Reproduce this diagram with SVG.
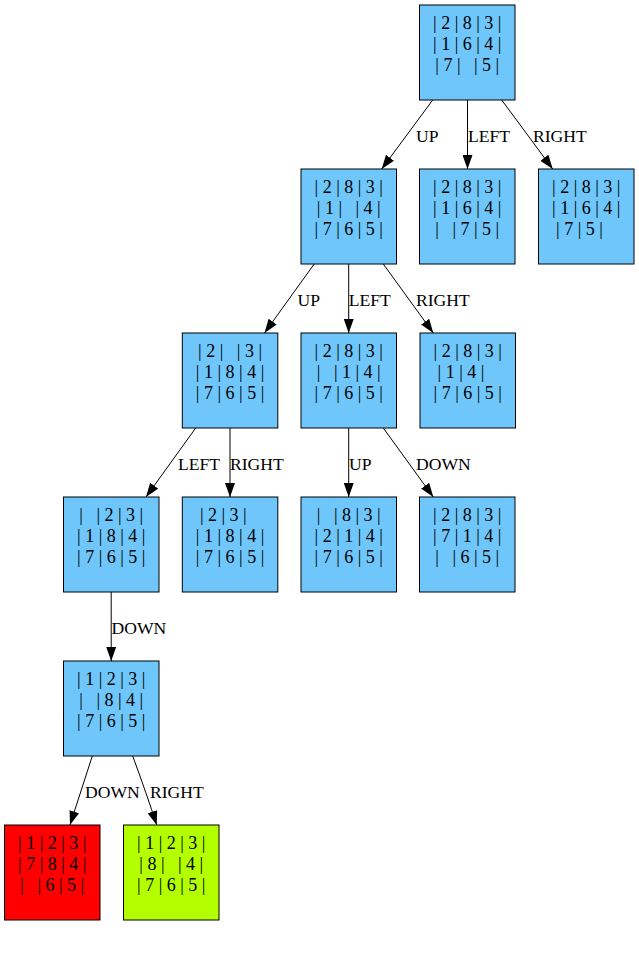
<svg xmlns="http://www.w3.org/2000/svg" width="639" height="971" viewBox="0 0 639 971">
<style>
.node rect{stroke:#000;stroke-width:1;fill:#6ec6fa}
.node.red rect{fill:#ff0000}
.node.green rect{fill:#b3ff00}
.node text{font-family:"Liberation Serif","Times New Roman",serif;font-size:18px;fill:#000;text-anchor:middle;white-space:pre}
.edges path{stroke:#000;stroke-width:1;fill:none;marker-end:url(#arr)}
.edges text{font-family:"Liberation Serif","Times New Roman",serif;font-size:17.6px;fill:#000}
</style>
<defs>
<marker id="arr" viewBox="0 0 14 10" refX="14" refY="5" markerWidth="14" markerHeight="10" markerUnits="userSpaceOnUse" orient="auto">
<path d="M0,0 L14,5 L0,10 z" fill="#000"/>
</marker>
</defs>
<rect width="639" height="971" fill="#fff"/>
<g id="edges" class="edges">
<path d="M432.7,100 L381.7,169"/><text x="416" y="141.5">UP</text>
<path d="M467.5,100 L467.5,169"/><text x="468" y="141.5">LEFT</text>
<path d="M501.7,100 L552.7,169"/><text x="533" y="141.5">RIGHT</text>
<path d="M314.2,264 L264.5,333"/><text x="297.5" y="305.5">UP</text>
<path d="M348.7,264 L348.7,333"/><text x="348.7" y="305.5">LEFT</text>
<path d="M383.3,264 L433.3,333"/><text x="416" y="305.5">RIGHT</text>
<path d="M195.7,428 L146,497"/><text x="178" y="469.5">LEFT</text>
<path d="M230,428 L230,497"/><text x="230" y="469.5">RIGHT</text>
<path d="M348.7,428 L348.7,497"/><text x="349" y="469.5">UP</text>
<path d="M383.3,428 L433.3,497"/><text x="416" y="469.5">DOWN</text>
<path d="M111.2,592 L111.2,661"/><text x="111.5" y="633.5">DOWN</text>
<path d="M92.3,756 L70,825"/><text x="85" y="797.5">DOWN</text>
<path d="M132.7,756 Q147,795 156.7,825"/><text x="150" y="797.5">RIGHT</text>
</g>
<g id="n0" class="node"><rect x="419.5" y="5" width="95.5" height="95"/>
<text x="467.25" y="28.5">| 2 | 8 | 3 |</text><text x="467.25" y="49.5">| 1 | 6 | 4 |</text><text x="467.25" y="70.5">| 7 |   | 5 |</text></g>
<g id="n1" class="node"><rect x="301" y="169" width="95.5" height="95"/>
<text x="348.75" y="192.5">| 2 | 8 | 3 |</text><text x="348.75" y="213.5">| 1 |   | 4 |</text><text x="348.75" y="234.5">| 7 | 6 | 5 |</text></g>
<g id="n2" class="node"><rect x="419.5" y="169" width="95.5" height="95"/>
<text x="467.25" y="192.5">| 2 | 8 | 3 |</text><text x="467.25" y="213.5">| 1 | 6 | 4 |</text><text x="467.25" y="234.5">|   | 7 | 5 |</text></g>
<g id="n3" class="node"><rect x="538.5" y="169" width="95.5" height="95"/>
<text x="586.25" y="192.5">| 2 | 8 | 3 |</text><text x="586.25" y="213.5">| 1 | 6 | 4 |</text><text x="586.25" y="234.5">| 7 | 5 |   </text></g>
<g id="n4" class="node"><rect x="182.3" y="333" width="95.5" height="95"/>
<text x="230.05" y="356.5">| 2 |   | 3 |</text><text x="230.05" y="377.5">| 1 | 8 | 4 |</text><text x="230.05" y="398.5">| 7 | 6 | 5 |</text></g>
<g id="n5" class="node"><rect x="301" y="333" width="95.5" height="95"/>
<text x="348.75" y="356.5">| 2 | 8 | 3 |</text><text x="348.75" y="377.5">|   | 1 | 4 |</text><text x="348.75" y="398.5">| 7 | 6 | 5 |</text></g>
<g id="n6" class="node"><rect x="420" y="333" width="95.5" height="95"/>
<text x="467.75" y="356.5">| 2 | 8 | 3 |</text><text x="467.75" y="377.5">| 1 | 4 |   </text><text x="467.75" y="398.5">| 7 | 6 | 5 |</text></g>
<g id="n7" class="node"><rect x="63.5" y="497" width="95.5" height="95"/>
<text x="111.25" y="520.5">|   | 2 | 3 |</text><text x="111.25" y="541.5">| 1 | 8 | 4 |</text><text x="111.25" y="562.5">| 7 | 6 | 5 |</text></g>
<g id="n8" class="node"><rect x="182.3" y="497" width="95.5" height="95"/>
<text x="230.05" y="520.5">| 2 | 3 |   </text><text x="230.05" y="541.5">| 1 | 8 | 4 |</text><text x="230.05" y="562.5">| 7 | 6 | 5 |</text></g>
<g id="n9" class="node"><rect x="301" y="497" width="95.5" height="95"/>
<text x="348.75" y="520.5">|   | 8 | 3 |</text><text x="348.75" y="541.5">| 2 | 1 | 4 |</text><text x="348.75" y="562.5">| 7 | 6 | 5 |</text></g>
<g id="n10" class="node"><rect x="419.5" y="497" width="95.5" height="95"/>
<text x="467.25" y="520.5">| 2 | 8 | 3 |</text><text x="467.25" y="541.5">| 7 | 1 | 4 |</text><text x="467.25" y="562.5">|   | 6 | 5 |</text></g>
<g id="n11" class="node"><rect x="63.5" y="661" width="95.5" height="95"/>
<text x="111.25" y="684.5">| 1 | 2 | 3 |</text><text x="111.25" y="705.5">|   | 8 | 4 |</text><text x="111.25" y="726.5">| 7 | 6 | 5 |</text></g>
<g id="n12" class="node red"><rect x="4.5" y="825" width="95.5" height="95"/>
<text x="52.25" y="848.5">| 1 | 2 | 3 |</text><text x="52.25" y="869.5">| 7 | 8 | 4 |</text><text x="52.25" y="890.5">|   | 6 | 5 |</text></g>
<g id="n13" class="node green"><rect x="123.5" y="825" width="95.5" height="95"/>
<text x="171.25" y="848.5">| 1 | 2 | 3 |</text><text x="171.25" y="869.5">| 8 |   | 4 |</text><text x="171.25" y="890.5">| 7 | 6 | 5 |</text></g>
</svg>
